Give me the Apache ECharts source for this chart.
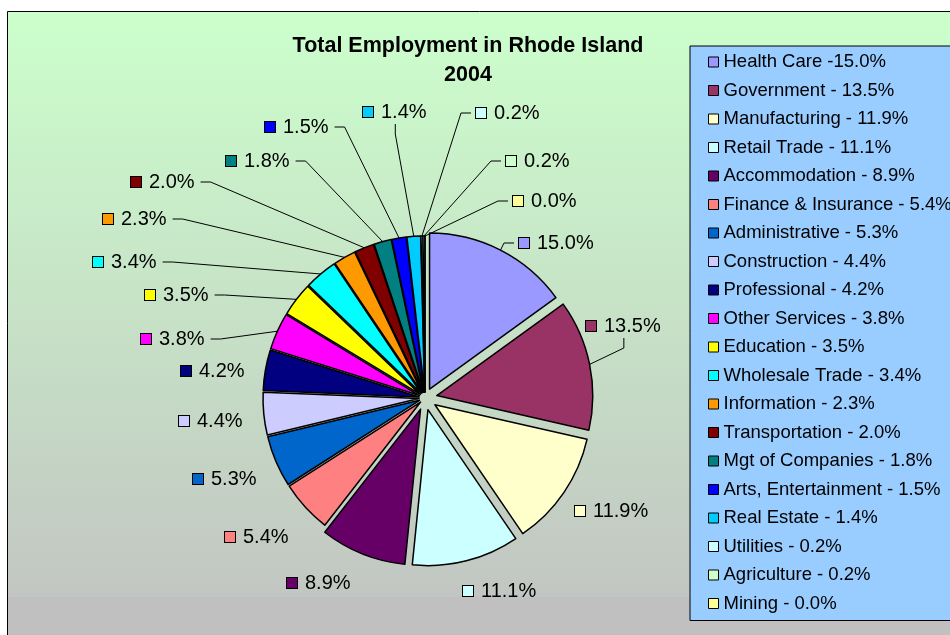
<!DOCTYPE html>
<html>
<head>
<meta charset="utf-8">
<script src="https://cdn.jsdelivr.net/npm/echarts@6/dist/echarts.min.js"></script>
<style>
html, body { margin: 0; padding: 0; background: #fff; }
#chart { width: 950px; height: 635px; }
</style>
</head>
<body>
<div id="chart"></div>
<script>
// slices, clockwise from 12 o'clock
const categories = ['Health Care', 'Government', 'Manufacturing', 'Retail Trade', 'Accommodation',
	'Finance & Insurance', 'Administrative', 'Construction', 'Professional', 'Other Services',
	'Education', 'Wholesale Trade', 'Information', 'Transportation', 'Mgt of Companies',
	'Arts, Entertainment', 'Real Estate', 'Utilities', 'Agriculture', 'Mining'];
const legendLabels = ['Health Care -15.0%', 'Government - 13.5%', 'Manufacturing - 11.9%', 'Retail Trade - 11.1%',
	'Accommodation - 8.9%', 'Finance & Insurance - 5.4%', 'Administrative - 5.3%', 'Construction - 4.4%',
	'Professional - 4.2%', 'Other Services - 3.8%', 'Education - 3.5%', 'Wholesale Trade - 3.4%',
	'Information - 2.3%', 'Transportation - 2.0%', 'Mgt of Companies - 1.8%', 'Arts, Entertainment - 1.5%',
	'Real Estate - 1.4%', 'Utilities - 0.2%', 'Agriculture - 0.2%', 'Mining - 0.0%'];
const shares = [15.0, 13.5, 11.9, 11.1, 8.9, 5.4, 5.3, 4.4, 4.2, 3.8, 3.5, 3.4, 2.3, 2.0, 1.8, 1.5, 1.4, 0.2, 0.2, 0.0];
const sliceColors = ['#9999FF', '#993366', '#FFFFCC', '#CCFFFF', '#660066', '#FF8080', '#0066CC', '#CCCCFF',
	'#000080', '#FF00FF', '#FFFF00', '#00FFFF', '#FF9900', '#800000', '#008080', '#0000FF', '#00CCFF',
	'#CCFFFF', '#CCFFCC', '#FFFF99'];

// pie geometry
const pieCenter = [425, 398];
const pieRadius = 156;
// how far each slice is pulled out from the centre (px), the rest get the default
const explodeOffsets = { 'Health Care': 10, 'Government': 12, 'Manufacturing': 12, 'Retail Trade': 12, 'Accommodation': 12 };
const defaultOffset = 6;

// where the data labels were dragged to (left of key square, middle of text)
const labelSpots = {
	'Health Care': [519, 243], 'Government': [586, 326], 'Manufacturing': [575, 511],
	'Retail Trade': [463, 591], 'Accommodation': [287, 583], 'Finance & Insurance': [225, 537],
	'Administrative': [193, 479], 'Construction': [179, 421], 'Professional': [181, 371],
	'Other Services': [141, 339], 'Education': [145, 295], 'Wholesale Trade': [93, 262],
	'Information': [103, 219], 'Transportation': [131, 182], 'Mgt of Companies': [226, 161],
	'Arts, Entertainment': [265, 127], 'Real Estate': [363, 112], 'Utilities': [476, 113],
	'Agriculture': [506, 161], 'Mining': [513, 201]
};
// labels that keep a leader line back to their slice
const leaderLines = ['Health Care', 'Government', 'Other Services', 'Education', 'Wholesale Trade',
	'Information', 'Transportation', 'Mgt of Companies', 'Arts, Entertainment', 'Real Estate',
	'Utilities', 'Agriculture', 'Mining'];

const myChart = echarts.init(document.getElementById('chart'));

// middle angle of each slice (radians, clockwise from 12 o'clock)
const total = shares.reduce((a, b) => a + b, 0);
let running = 0;
const midAngles = shares.map((v) => {
	const mid = (running + v / 2) / total * Math.PI * 2;
	running += v;
	return mid;
});
const offsetOf = (i) => explodeOffsets[categories[i]] ?? defaultOffset;
const sliceCenters = midAngles.map((a, i) => [
	pieCenter[0] + offsetOf(i) * Math.sin(a),
	pieCenter[1] - offsetOf(i) * Math.cos(a)
]);
const edgePoints = midAngles.map((a, i) => [
	sliceCenters[i][0] + pieRadius * Math.sin(a),
	sliceCenters[i][1] - pieRadius * Math.cos(a)
]);

// one little key square per slice for the data labels
const labelRich = {
	txt: { fontSize: 20, color: '#000', fontFamily: 'Liberation Sans, Arial', padding: [0, 0, 0, 8] }
};
sliceColors.forEach((c, i) => {
	labelRich[`k${i}`] = { width: 10, height: 10, backgroundColor: c, borderColor: '#000', borderWidth: 1 };
});

function placeLabel(params) {
	const name = categories[params.dataIndex];
	const spot = labelSpots[name];
	const w = params.labelRect.width;
	const h = params.labelRect.height;
	const left = spot[0];
	const top = spot[1] - h / 2;
	const edge = edgePoints[params.dataIndex];
	let points;
	if (edge[0] > left + w) {
		points = [edge, [left + w + 15, spot[1]], [left + w + 5, spot[1]]];
	} else if (edge[0] < left) {
		points = [edge, [left - 15, spot[1]], [left - 5, spot[1]]];
	} else {
		const x = left + w * 0.5;
		points = [edge, [x, top + h + 12], [x, top + h + 2]];
	}
	return {
		x: left,
		y: spot[1],
		align: 'left',
		verticalAlign: 'middle',
		labelLinePoints: points
	};
}

const hidden = { color: 'transparent', borderWidth: 0 };
const basePie = {
	type: 'pie',
	silent: true,
	radius: pieRadius,
	startAngle: 90,
	clockwise: true,
	emphasis: { disabled: true }
};

// every slice is drawn by its own pie, moved out along its middle angle
const sliceSeries = categories.map((name, k) => Object.assign({}, basePie, {
	center: sliceCenters[k],
	label: { show: false },
	labelLine: { show: false },
	data: shares.map((v, i) => i === k
		? { name: legendLabels[i], value: v, itemStyle: { color: sliceColors[i], borderColor: '#000', borderWidth: 1.5 } }
		: { name: '', value: v, itemStyle: hidden })
}));

// invisible pie that only carries the data labels and leader lines
const labelSeries = Object.assign({}, basePie, {
	center: pieCenter,
	avoidLabelOverlap: false,
	itemStyle: hidden,
	label: {
		show: true,
		position: 'outside',
		formatter: (p) => `{k${p.dataIndex}|}{txt|${p.value.toFixed(1)}%}`,
		rich: labelRich
	},
	labelLine: {
		length: 10,
		length2: 10,
		lineStyle: { color: '#000', width: 1 }
	},
	labelLayout: placeLabel,
	data: categories.map((name, i) => ({
		name: legendLabels[i],
		value: shares[i],
		labelLine: { show: leaderLines.includes(name) }
	}))
});

const option = {
	animation: false,
	graphic: [
		{
			type: 'rect',
			z: -10,
			silent: true,
			shape: { x: 7, y: 11, width: 970, height: 586 },
			style: {
				fill: new echarts.graphic.LinearGradient(0, 0, 0, 1, [
					{ offset: 0, color: '#CCFFCC' },
					{ offset: 1, color: '#C2C6C2' }
				])
			}
		},
		{
			type: 'rect',
			z: -10,
			silent: true,
			shape: { x: 7, y: 597, width: 970, height: 60 },
			style: { fill: '#C0C0C0' }
		},
		{
			type: 'rect',
			z: -9,
			silent: true,
			shape: { x: 7.5, y: 11.5, width: 970, height: 660 },
			style: { fill: 'none', stroke: '#000', lineWidth: 1 }
		}
	],
	title: {
		text: 'Total Employment in Rhode Island\n2004',
		left: 463,
		top: 27,
		textAlign: 'center',
		textStyle: {
			fontFamily: 'Liberation Sans, Arial',
			fontSize: 21.5,
			fontWeight: 'bold',
			lineHeight: 29,
			color: '#000'
		}
	},
	legend: {
		orient: 'vertical',
		left: 690,
		top: 46,
		padding: [6.5, 40, 7.5, 18],
		backgroundColor: '#99CCFF',
		borderColor: '#000',
		borderWidth: 1,
		itemWidth: 10,
		itemHeight: 10,
		itemGap: 9.5,
		icon: 'rect',
		selectedMode: false,
		itemStyle: { borderColor: '#000', borderWidth: 1 },
		textStyle: { fontFamily: 'Liberation Sans, Arial', fontSize: 18.5, color: '#000', lineHeight: 18 },
		data: legendLabels.map((n, i) => ({ name: n, itemStyle: { color: sliceColors[i] } }))
	},
	series: sliceSeries.concat([labelSeries])
};

myChart.setOption(option);
</script>
</body>
</html>
